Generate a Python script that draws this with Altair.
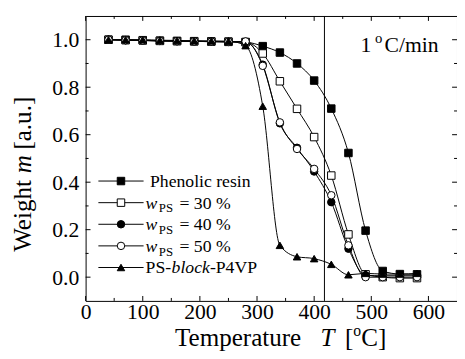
import altair as alt
import pandas as pd

# ---------------- data ----------------
temps = [40, 70, 100, 130, 160, 190, 220, 250, 280, 310, 340, 370, 400, 430, 460, 490, 520, 550, 580]
phenolic = [1.0, 1.0, 0.998, 0.996, 0.995, 0.994, 0.993, 0.992, 0.99, 0.973, 0.946, 0.90, 0.828, 0.71, 0.523, 0.196, 0.026, 0.013, 0.012]
w30 = [1.0, 0.998, 0.997, 0.995, 0.994, 0.993, 0.992, 0.991, 0.99, 0.942, 0.825, 0.709, 0.59, 0.428, 0.18, 0.012, 0.0, -0.004, -0.004]
w40 = [1.0, 0.998, 0.997, 0.995, 0.994, 0.993, 0.992, 0.991, 0.99, 0.895, 0.648, 0.545, 0.445, 0.316, 0.12, 0.008, 0.006, 0.006, 0.006]
w50 = [1.0, 0.998, 0.997, 0.995, 0.994, 0.993, 0.992, 0.991, 0.993, 0.89, 0.652, 0.54, 0.456, 0.345, 0.134, 0.0, 0.0, 0.0, 0.0]
psp4vp = [1.0, 1.0, 1.0, 0.998, 0.997, 0.996, 0.995, 0.994, 0.975, 0.72, 0.134, 0.086, 0.078, 0.054, 0.01, 0.016, 0.013, 0.013, 0.016]

series_names = ["Phenolic resin", "wPS = 30 %", "wPS = 40 %", "wPS = 50 %", "PS-block-P4VP"]
series_values = [phenolic, w30, w40, w50, psp4vp]
shapes = ["square", "square", "circle", "circle", "triangle-up"]
fills = ["black", "white", "black", "white", "black"]
sizes = [58, 58, 65, 65, 110]

x_major = [0, 100, 200, 300, 400, 500, 600]
x_minor = [50, 150, 250, 350, 450, 550]
y_major = [0.0, 0.2, 0.4, 0.6, 0.8, 1.0]
y_minor = [0.1, 0.3, 0.5, 0.7, 0.9]
marker_T = [418]

FONT = "Liberation Serif"
W, H = 378, 290

rows = []
for name, vals in zip(series_names, series_values):
    for t, v in zip(temps, vals):
        rows.append({"T": t, "m": v, "series": name})
df = pd.DataFrame(rows)

xs = alt.Scale(domain=[0, 650], nice=False, zero=False)
ys = alt.Scale(domain=[-0.1, 1.1], nice=False, zero=False)
xaxis = alt.Axis(values=x_major, ticks=False, domain=False, grid=False,
                 labelFontSize=22, labelFont=FONT, labelColor="black",
                 labelPadding=1, labelFlush=False, labelOverlap=False,
                 format="d", title=None)
yaxis = alt.Axis(values=y_major, ticks=False, domain=False, grid=False,
                 labelFontSize=22, labelFont=FONT, labelColor="black",
                 labelPadding=7, labelFlush=False, labelOverlap=False,
                 format=".1f", title=None)
shape_s = alt.Scale(domain=series_names, range=shapes)
fill_s = alt.Scale(domain=series_names, range=fills)
size_s = alt.Scale(domain=series_names, range=sizes)

base = alt.Chart(df)

lines = base.mark_line(color="black", strokeWidth=1, interpolate="monotone").encode(
    x=alt.X("T:Q", scale=xs, axis=xaxis),
    y=alt.Y("m:Q", scale=ys, axis=yaxis),
    detail="series:N",
)

points = base.mark_point(stroke="black", strokeWidth=1, opacity=1, fillOpacity=1).encode(
    x=alt.X("T:Q", scale=xs, axis=xaxis),
    y=alt.Y("m:Q", scale=ys, axis=yaxis),
    shape=alt.Shape("series:N", scale=shape_s, legend=None),
    fill=alt.Fill("series:N", scale=fill_s, legend=None),
    size=alt.Size("series:N", scale=size_s, legend=None),
)

vline = alt.Chart(pd.DataFrame({"T": marker_T})).mark_rule(color="black", strokeWidth=1).encode(
    x=alt.X("T:Q", scale=xs, axis=xaxis)
)

# ---------------- inward ticks ----------------
def xticks(vals, length):
    d = pd.DataFrame({"T": vals})
    bottom = alt.Chart(d).mark_rule(color="black", strokeWidth=1).encode(
        x=alt.X("T:Q", scale=xs, axis=xaxis), y=alt.value(H), y2=alt.value(H - length))
    top = alt.Chart(d).mark_rule(color="black", strokeWidth=1).encode(
        x=alt.X("T:Q", scale=xs, axis=xaxis), y=alt.value(0), y2=alt.value(length))
    return [bottom, top]

def yticks(vals, length):
    d = pd.DataFrame({"m": vals})
    left = alt.Chart(d).mark_rule(color="black", strokeWidth=1).encode(
        y=alt.Y("m:Q", scale=ys, axis=yaxis), x=alt.value(0), x2=alt.value(length))
    right = alt.Chart(d).mark_rule(color="black", strokeWidth=1).encode(
        y=alt.Y("m:Q", scale=ys, axis=yaxis), x=alt.value(W), x2=alt.value(W - length))
    return [left, right]

tick_layers = xticks(x_major, 5) + xticks(x_minor, 3) + yticks(y_major, 5) + yticks(y_minor, 3)

# ---------------- legend (inside plot) ----------------
ROW0, ROWSTEP = 168, 22
leg = pd.DataFrame({"series": series_names, "idx": list(range(len(series_names)))})
legend_base = alt.Chart(leg).transform_calculate(ly=f"{ROW0} + {ROWSTEP} * datum.idx")
leg_lines = legend_base.mark_rule(color="black", strokeWidth=1).encode(
    x=alt.value(13), x2=alt.value(59), y=alt.Y("ly:Q", scale=None))
leg_points = legend_base.mark_point(stroke="black", strokeWidth=1, opacity=1, fillOpacity=1).encode(
    x=alt.value(36), y=alt.Y("ly:Q", scale=None),
    shape=alt.Shape("series:N", scale=shape_s, legend=None),
    fill=alt.Fill("series:N", scale=fill_s, legend=None),
    size=alt.Size("series:N", scale=size_s, legend=None),
)

# text pieces of the legend labels: (row, text, style, x)
pieces = [
    (0, "Phenolic resin", "normal", 65.5),
    (1, "w", "italic", 61), (1, "PS", "sub", 74.5), (1, "= 30 %", "normal", 95.5),
    (2, "w", "italic", 61), (2, "PS", "sub", 74.5), (2, "= 40 %", "normal", 95.5),
    (3, "w", "italic", 61), (3, "PS", "sub", 74.5), (3, "= 50 %", "normal", 95.5),
    (4, "PS-", "normal", 61), (4, "block", "italic", 87.5), (4, "-P4VP", "normal", 126.5),
]
pdf = pd.DataFrame(pieces, columns=["idx", "txt", "style", "lx"])
styles = {
    "normal": dict(fontSize=18, fontStyle="normal", dy=6),
    "italic": dict(fontSize=18, fontStyle="italic", dy=6),
    "sub": dict(fontSize=13, fontStyle="normal", dy=10),
}
leg_texts = []
for st, kw in styles.items():
    leg_texts.append(
        alt.Chart(pdf[pdf["style"] == st]).transform_calculate(ly=f"{ROW0} + {ROWSTEP} * datum.idx")
        .mark_text(font=FONT, align="left", baseline="alphabetic", color="black", **kw)
        .encode(x=alt.X("lx:Q", scale=None), y=alt.Y("ly:Q", scale=None), text="txt:N")
    )

# ---------------- titles & annotation ----------------
one = pd.DataFrame({"a": [0]})
def txt(s, x, y, size, style="normal", angle=0):
    kw = dict(font=FONT, align="left", baseline="alphabetic", color="black",
              fontSize=size, fontStyle=style, text=s)
    if angle:
        kw["angle"] = angle
    return alt.Chart(one).mark_text(**kw).encode(x=alt.value(x), y=alt.value(y))

title_layers = [
    txt("Temperature", 91, 336, 25.5),
    txt("T", 239, 336, 25.5, "italic"),
    txt("[", 264, 336, 25.5),
    txt("o", 272.5, 326, 16),
    txt("C]", 280.5, 336, 25.5),
    txt("Weight", -56, 240, 25.5, angle=270),
    txt("m", -56, 160, 25.5, "italic", angle=270),
    txt("[a.u.]", -56, 136, 25.5, angle=270),
    txt("1", 279.7, 37, 22),
    txt("o", 294.5, 28, 15),
    txt("C/min", 304.2, 37, 22),
]

chart = alt.layer(
    lines, *tick_layers, points, vline, leg_lines, leg_points, *leg_texts, *title_layers
).properties(
    width=W, height=H,
    autosize=alt.AutoSizeParams(type="none"),
    padding={"left": 79, "top": 5, "right": 0, "bottom": 56},
).configure(font=FONT, background="white").configure_view(stroke="black", strokeWidth=1)

chart.save("out.html", embed_options={"renderer": "svg", "actions": False})
